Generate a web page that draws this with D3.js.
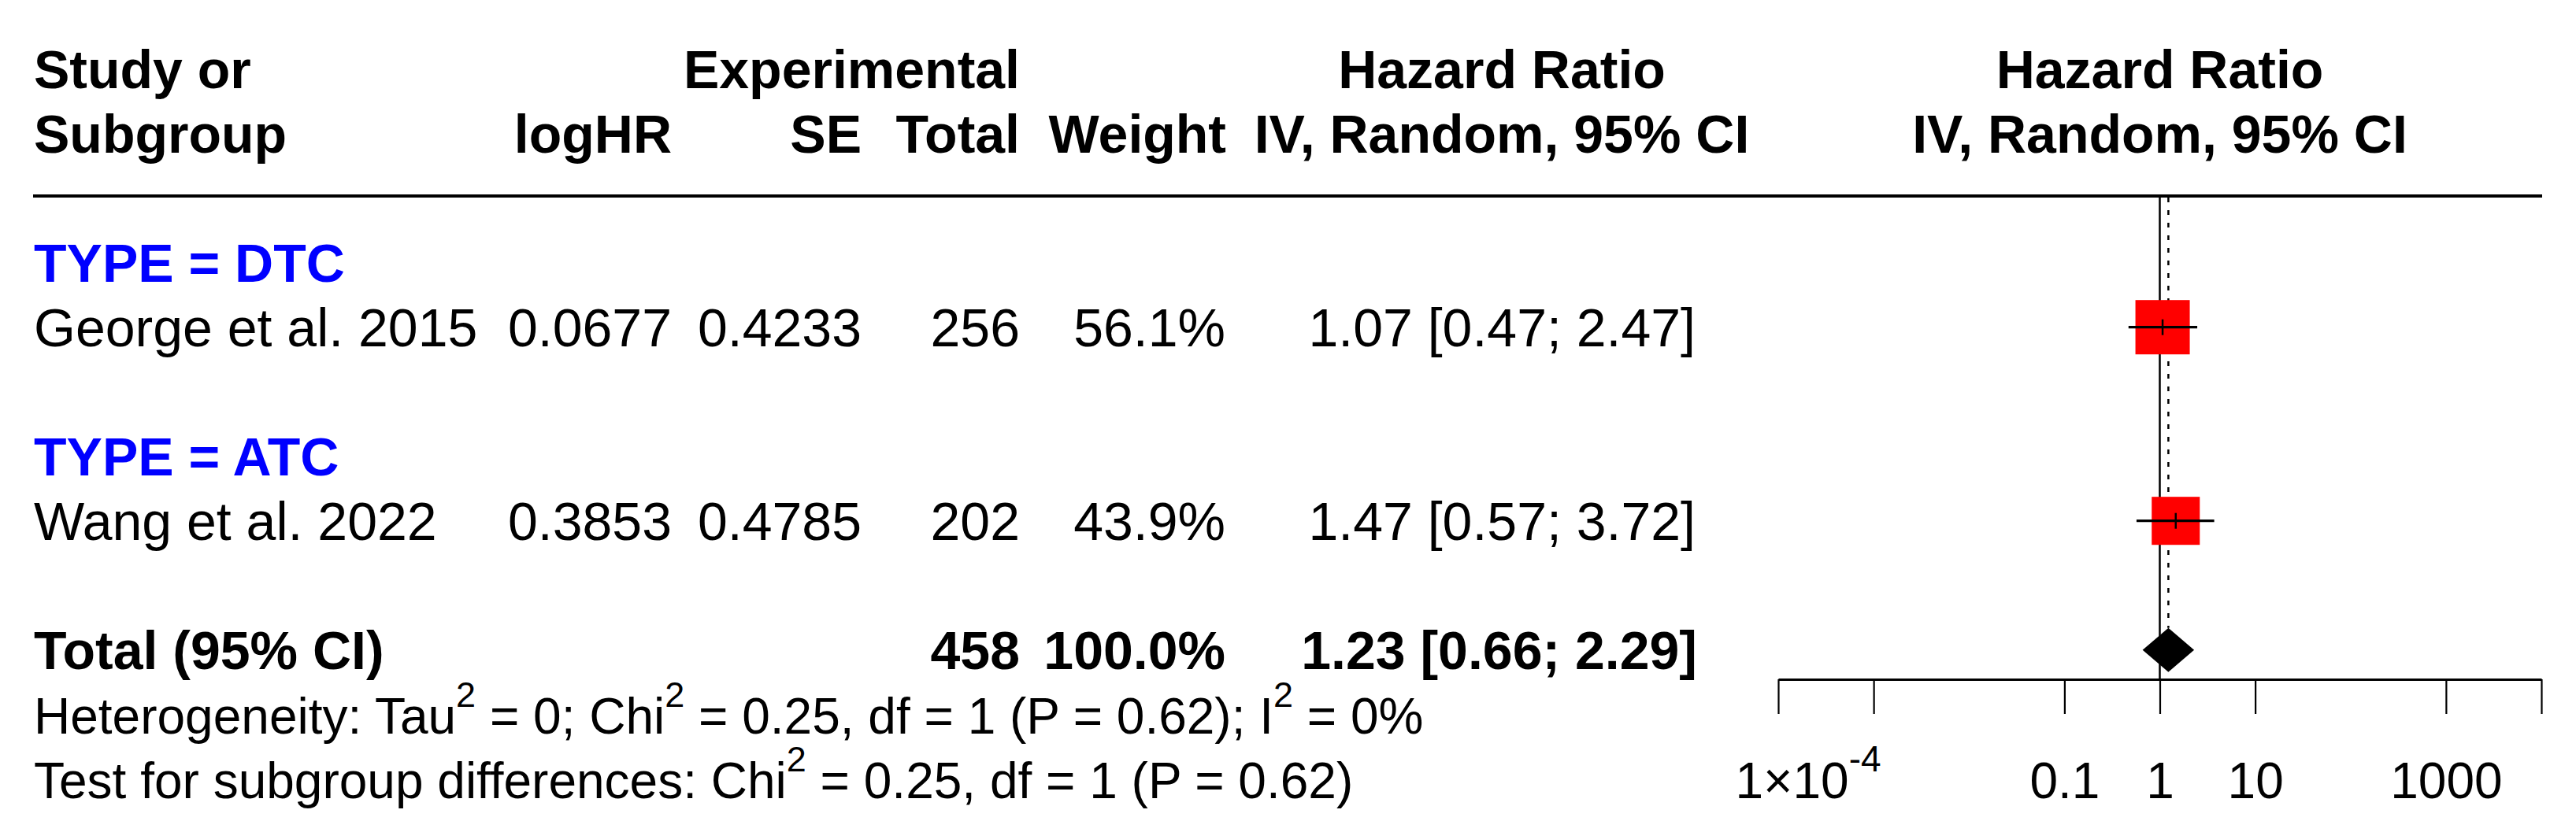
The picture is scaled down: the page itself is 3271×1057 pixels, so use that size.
<!DOCTYPE html>
<html><head><meta charset="utf-8">
<script src="https://cdn.jsdelivr.net/npm/d3@7"></script>
<style>
body{margin:0;background:#fff}
svg{display:block}
text{font-family:"Liberation Sans",Arial,Helvetica,sans-serif;fill:#000}
</style>
</head><body>
<svg id="c" width="3271" height="1057"></svg>
<script>
// ---- data ----
const subgroups = ["TYPE = DTC", "TYPE = ATC"];
const studies = ["George et al. 2015", "Wang et al. 2022"];
const logHR = [0.0677, 0.3853];
const se = [0.4233, 0.4785];
const totals = [256, 202];
const weights = [56.1, 43.9];
const hr = [1.07, 1.47];
const lower = [0.47, 0.57];
const upper = [2.47, 3.72];
const pooledTotal = 458;
const pooledWeight = 100.0;
const pooledHR = [1.23, 0.66, 2.29]; // estimate, lower, upper
const tickValues = [1e-4, 1e-3, 0.1, 1, 10, 1000, 1e4];
const tickLabels = ["1×10|-4", "", "0.1", "1", "10", "1000", ""];
const hetText = [
  [["Heterogeneity: Tau", 0], ["2", 1], [" = 0; Chi", 0], ["2", 1], [" = 0.25, df = 1 (P = 0.62); I", 0], ["2", 1], [" = 0%", 0]],
  [["Test for subgroup differences: Chi", 0], ["2", 1], [" = 0.25, df = 1 (P = 0.62)", 0]]
];

// ---- layout ----
const svg = d3.select("#c");
const FS = 68, FSH = 64, FSA = 64;
const x = d3.scaleLog().domain([1e-4, 1e4]).range([2258, 3227]);
const rowBase = d3.scaleLinear().domain([0, 1]).range([357.7, 439.7]); // baseline of row i
const rowCenter = i => rowBase(i) - 24;
const col = {left: 43, logHR: 853, se: 1094, total: 1295, weight: 1556, ci: 2153};

function txt(xp, yp, s, opt = {}) {
  return svg.append("text").attr("x", xp).attr("y", yp)
    .attr("font-size", opt.fs || FS)
    .attr("font-weight", opt.bold ? "bold" : "normal")
    .attr("text-anchor", opt.anchor || "start")
    .style("fill", opt.color || "#000")
    .text(s);
}

// header
txt(col.left, rowBase(-3), "Study or", {bold: true});
txt(col.left, rowBase(-2), "Subgroup", {bold: true});
txt(col.total, rowBase(-3), "Experimental", {bold: true, anchor: "end"});
txt(col.logHR, rowBase(-2), "logHR", {bold: true, anchor: "end"});
txt(col.se, rowBase(-2), "SE", {bold: true, anchor: "end"});
txt(col.total, rowBase(-2), "Total", {bold: true, anchor: "end"});
txt(1557, rowBase(-2), "Weight", {bold: true, anchor: "end"});
txt(1907, rowBase(-3), "Hazard Ratio", {bold: true, anchor: "middle"});
txt(1907, rowBase(-2), "IV, Random, 95% CI", {bold: true, anchor: "middle"});
txt(x(1), rowBase(-3), "Hazard Ratio", {bold: true, anchor: "middle"});
txt(x(1), rowBase(-2), "IV, Random, 95% CI", {bold: true, anchor: "middle"});

svg.append("line").attr("x1", 42).attr("x2", 3228).attr("y1", 249).attr("y2", 249)
  .attr("stroke", "#000").attr("stroke-width", 4);

// reference lines
const axisY = 863;
const diamondH = 28;
svg.append("line").attr("x1", x(1)).attr("x2", x(1)).attr("y1", 251).attr("y2", axisY)
  .attr("stroke", "#000").attr("stroke-width", 2.5);
svg.append("line").attr("x1", x(pooledHR[0])).attr("x2", x(pooledHR[0]))
  .attr("y1", 251).attr("y2", rowCenter(6) - diamondH)
  .attr("stroke", "#000").attr("stroke-width", 2.5).attr("stroke-dasharray", "6 10");

// rows
const fmt4 = d3.format(".4f"), fmt2 = d3.format(".2f"), fmt1 = d3.format(".1f");
subgroups.forEach((sg, k) => {
  const ri = k * 3;
  txt(col.left, rowBase(ri), sg, {bold: true, color: "#0000FF"});
  const si = ri + 1, b = rowBase(si), c = rowCenter(si);
  txt(col.left, b, studies[k]);
  txt(col.logHR, b, fmt4(logHR[k]), {anchor: "end"});
  txt(col.se, b, fmt4(se[k]), {anchor: "end"});
  txt(col.total, b, totals[k], {anchor: "end"});
  txt(col.weight, b, fmt1(weights[k]) + "%", {anchor: "end"});
  txt(col.ci, b, `${fmt2(hr[k])} [${fmt2(lower[k])}; ${fmt2(upper[k])}]`, {anchor: "end"});
  const side = 69 * Math.sqrt(weights[k] / weights[0]);
  svg.append("rect").attr("x", x(hr[k]) - side / 2).attr("y", c - side / 2)
    .attr("width", side).attr("height", side).attr("fill", "#FF0000");
  svg.append("line").attr("x1", x(lower[k])).attr("x2", x(upper[k])).attr("y1", c).attr("y2", c)
    .attr("stroke", "#000").attr("stroke-width", 3.2);
  svg.append("line").attr("x1", x(hr[k])).attr("x2", x(hr[k])).attr("y1", c - 10).attr("y2", c + 10)
    .attr("stroke", "#000").attr("stroke-width", 2.5);
});

// total row
const tb = rowBase(6), tc = rowCenter(6);
txt(col.left, tb, "Total (95% CI)", {bold: true});
txt(col.total, tb, pooledTotal, {bold: true, anchor: "end"});
txt(col.weight, tb, fmt1(pooledWeight) + "%", {bold: true, anchor: "end"});
txt(col.ci + 2, tb, `${fmt2(pooledHR[0])} [${fmt2(pooledHR[1])}; ${fmt2(pooledHR[2])}]`, {bold: true, anchor: "end"});
svg.append("path")
  .attr("d", d3.line()([[x(pooledHR[1]), tc], [x(pooledHR[0]), tc - diamondH], [x(pooledHR[2]), tc], [x(pooledHR[0]), tc + diamondH]]) + "Z")
  .attr("fill", "#000");

// heterogeneity text
hetText.forEach((segs, k) => {
  const t = svg.append("text").attr("x", col.left).attr("y", rowBase(7 + k)).attr("font-size", FSH);
  let up = false;
  segs.forEach(([s, sup]) => {
    const ts = t.append("tspan").text(s);
    if (sup && !up) { ts.attr("dy", -34).attr("font-size", 45); up = true; }
    else if (!sup && up) { ts.attr("dy", 34); up = false; }
  });
});

// axis
const ax = svg.append("g").attr("transform", `translate(0,${axisY})`)
  .call(d3.axisBottom(x).tickValues(tickValues).tickSize(44).tickSizeOuter(0)
    .tickFormat((d, i) => tickLabels[i]));
ax.select(".domain").attr("stroke", "#000").attr("stroke-width", 3);
ax.selectAll(".tick line").attr("stroke", "#000").attr("stroke-width", 2.2);
ax.selectAll(".tick text").attr("y", 151).attr("dy", 0).attr("font-size", FSA)
  .attr("font-family", '"Liberation Sans",Arial,sans-serif').style("fill", "#000")
  .each(function (d, i) {
    const lab = tickLabels[i];
    if (lab.includes("|")) {
      const [base, sup] = lab.split("|");
      const t = d3.select(this).text(null).attr("text-anchor", "start").attr("x", -55);
      t.append("tspan").text(base);
      t.append("tspan").text(sup).attr("dy", -34).attr("font-size", 46);
    }
  });
</script>
</body></html>
